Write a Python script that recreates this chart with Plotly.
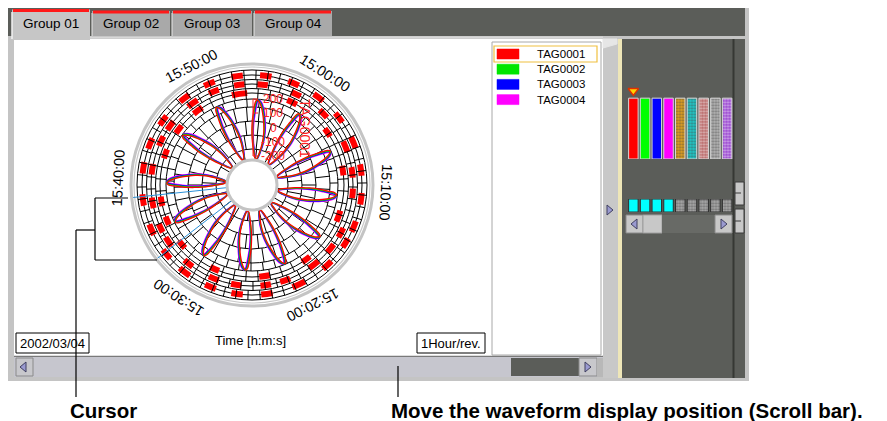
import numpy as np
import plotly.graph_objects as go

W, H = 887, 421
OFF = 8                      # the page body adds an 8px margin
FW, FH = W - OFF, H - OFF    # figure size

# ---------------- data ----------------
TAG_NAMES = ["TAG0001", "TAG0002", "TAG0003", "TAG0004"]
TAG_COLORS = ["#ff0000", "#00e600", "#0000ff", "#ff00ff"]
TAG_LAG_MIN = [-0.13, -0.045, 0.045, 0.13]          # small lag between the 4 tags

# analog waveform: time of each peak (minutes after 15:00:00)
PEAK_MIN = [55.7, 0.7, 6.2, 11.2, 16.3, 21.3, 25.8, 30.8, 35.8, 40.3, 46.0, 51.0]
# outline of one cycle: time offset from peak (min) and value
CYCLE_DMIN = [1.12, 1.65, 1.72, 1.62, 1.42, 1.15, 0.87, 0.55, 0.28, 0.0,
              -0.18, -0.28, -0.40, -0.52, -0.58, -0.58, -0.48, -0.22, 0.55, 1.12]
CYCLE_VAL = [-215, -150, -100, -50, 0, 50, 100, 150, 180, 195,
             180, 150, 100, 50, 0, -50, -100, -150, -215, -215]

SCALE_TICKS = [200, 100, 0, -100, -200]

# digital traces: centre time of each ON pulse (min after 15:00) and its length (min)
DIG_ON_MIN = [
    [59.3, 4.2, 8.5, 13.3, 19.0, 23.7, 29.0, 33.3, 36.2, 38.3, 43.3, 46.2, 49.0, 53.7],
    [56.0, 59.3, 2.5, 6.3, 8.8, 10.8, 14.7, 16.5, 18.7, 21.8, 23.7, 26.5, 28.7, 31.5,
     34.3, 35.8, 38.3, 41.5, 44.3, 46.0, 49.0, 51.3, 53.8],
    [56.2, 58.7, 1.2, 3.7, 6.2, 8.7, 11.2, 13.7, 15.3, 17.8, 20.8, 23.7, 26.3, 28.7,
     31.3, 33.5, 36.0, 38.7, 41.5, 43.7, 46.0, 48.7, 51.2, 53.7],
]
DIG_LEN_MIN = [
    [1.1, 1.0, 1.0, 1.2, 1.0, 1.1, 1.0, 1.0, 0.9, 1.0, 1.0, 1.0, 1.1, 1.6],
    [1.0, 1.0, 1.0, 1.1, 1.0, 0.9, 1.0, 1.0, 1.1, 1.0, 1.0, 1.0, 1.0, 1.0,
     1.0, 0.9, 1.0, 1.0, 1.0, 1.0, 1.1, 1.0, 1.0],
    [1.0, 1.0, 1.0, 1.0, 1.1, 1.0, 1.0, 1.0, 0.9, 1.0, 1.2, 1.0, 1.0, 1.0,
     1.1, 1.0, 1.0, 1.0, 1.0, 1.0, 1.0, 1.0, 1.0, 1.0],
]

CURSOR_MIN = [39.0, 33.7]

TIME_LABELS = ["15:00:00", "15:10:00", "15:20:00", "15:30:00", "15:40:00", "15:50:00"]
TIME_LABEL_MIN = [0, 10, 20, 30, 40, 50]

TAB_LABELS = ["Group 01", "Group 02", "Group 03", "Group 04"]

BAR_TAGS = [1, 2, 3, 4, 5, 6, 7, 8, 9]
BAR_VALUES = [100, 100, 100, 100, 100, 100, 100, 100, 100]
BAR_COLORS = ["#ff0000", "#00ff00", "#0000ff", "#ff00ff", "#e0a020",
              "#20c8c8", "#b86868", "#b4b4b4", "#9a48d0"]
ALARM_VALUES = [1, 1, 1, 1, 1, 1, 1, 1, 1]
ALARM_COLORS = ["#00ffff", "#00ffff", "#00ffff", "#00ffff", "#a8a8a8",
                "#a8a8a8", "#a8a8a8", "#a8a8a8", "#a8a8a8"]

# ---------------- geometry / styles ----------------
CX, CY = 252, 185
R_PX, HOLE_PX = 121, 25
VPP = 400 / 57.0


def val(p):          # radial pixel -> radial axis value
    return (p - 57.5) * VPP


R_MIN, R_MAX = val(HOLE_PX), val(R_PX)
RING_PX = [25.6, 36, 50, 64, 78, 86, 92, 96.5, 101, 105.5, 110, 115]
DIG_BASE_PX = [92, 101, 110]
FONT = "Liberation Sans, Arial, sans-serif"
DARK = "#5b5d59"
LIGHT = "#c4c4c4"


def X(x):
    return (x - OFF) / FW


def Y(y):
    return 1 - (y - OFF) / FH


fig = go.Figure()

# brick-style radial grid segments
bt, br = [], []
bands = [(25, 36), (36, 50), (50, 64), (64, 78), (78, 86), (86, 96.5), (96.5, 105.5), (105.5, 115)]
for k, (a, b) in enumerate(bands):
    n = int(round(2 * np.pi * (a + b) / 2 / 12))
    step = 360.0 / n
    for i in range(n):
        t = i * step + 0.5 * step * (k % 2)
        bt += [t, t, None]
        br += [val(a), val(b), None]
fig.add_trace(go.Scatterpolar(theta=bt, r=br, mode="lines", line=dict(color="black", width=1),
                              hoverinfo="skip"))

# digital traces (red pulses)
for k in range(3):
    c = np.array(DIG_ON_MIN[k]) * 6
    w = np.array(DIG_LEN_MIN[k]) * 6
    fig.add_trace(go.Barpolar(theta=c, width=w, r=[6 * VPP] * len(c),
                              base=val(DIG_BASE_PX[k] - 3), marker=dict(color="#ff0000", line=dict(width=0)),
                              hoverinfo="skip"))

# analog traces
for j in [3, 2, 1, 0]:
    th, rr = [], []
    for p in PEAK_MIN:
        th += [(p + d + TAG_LAG_MIN[j]) * 6 for d in CYCLE_DMIN] + [None]
        rr += CYCLE_VAL + [None]
    fig.add_trace(go.Scatterpolar(theta=th, r=rr, mode="lines",
                                  line=dict(color=TAG_COLORS[j], width=1.3, shape="spline", smoothing=0.8),
                                  name=TAG_NAMES[j], hoverinfo="skip"))

# cursors
for m in CURSOR_MIN:
    fig.add_trace(go.Scatterpolar(theta=[m * 6, m * 6], r=[R_MIN, R_MAX], mode="lines",
                                  line=dict(color="#2a90d8", width=1), hoverinfo="skip"))

# right-panel bar graph
fig.add_trace(go.Bar(x=BAR_TAGS, y=BAR_VALUES, xaxis="x", yaxis="y",
                     marker=dict(color=BAR_COLORS, line=dict(color="#d8d8d8", width=1),
                                 pattern=dict(shape=["", "", "", "", ".", ".", ".", ".", "."],
                                              fgcolor=DARK, size=3, solidity=0.45)),
                     hoverinfo="skip"))
fig.add_trace(go.Scatter(x=[BAR_TAGS[0]], y=[112], xaxis="x", yaxis="y", mode="markers",
                         marker=dict(symbol="triangle-down", size=9, color="#ffd200",
                                     line=dict(color="#e03000", width=1.5)),
                         cliponaxis=False, hoverinfo="skip"))
fig.add_trace(go.Bar(x=BAR_TAGS, y=ALARM_VALUES, xaxis="x2", yaxis="y2",
                     marker=dict(color=ALARM_COLORS, line=dict(color="#303030", width=1),
                                 pattern=dict(shape=["", "", "", "", ".", ".", ".", ".", "."],
                                              fgcolor=DARK, size=3, solidity=0.45)),
                     hoverinfo="skip"))

# ---------------- chrome (shapes / annotations) ----------------
shapes, ann = [], []


def rect(x0, y0, x1, y1, fill=None, line=None, lw=1, layer="below"):
    shapes.append(dict(type="rect", xref="paper", yref="paper", x0=X(x0), x1=X(x1), y0=Y(y1), y1=Y(y0),
                       fillcolor=fill or "rgba(0,0,0,0)",
                       line=dict(color=line or "rgba(0,0,0,0)", width=lw if line else 0), layer=layer))


def seg(x0, y0, x1, y1, color="black", lw=1, layer="above"):
    shapes.append(dict(type="line", xref="paper", yref="paper", x0=X(x0), y0=Y(y0), x1=X(x1), y1=Y(y1),
                       line=dict(color=color, width=lw), layer=layer))


def poly(pts, fill, line="#404060", layer="above"):
    d = "M " + " L ".join(f"{X(a)},{Y(b)}" for a, b in pts) + " Z"
    shapes.append(dict(type="path", xref="paper", yref="paper", path=d, fillcolor=fill,
                       line=dict(color=line, width=1), layer=layer))


def text(x, y, s, size=13, color="black", xa="center", ya="middle", angle=0, bold=False):
    ann.append(dict(x=X(x), y=Y(y), xref="paper", yref="paper", text=f"<b>{s}</b>" if bold else s,
                    showarrow=False, xanchor=xa, yanchor=ya, textangle=angle,
                    font=dict(family=FONT, size=size, color=color)))


# window frame
rect(8, 8, 749, 381, fill=LIGHT)
rect(8, 8, 749, 36, fill=DARK)
rect(14, 39, 603, 356, fill="white")
# tabs
tabs = [(12, 90), (92, 170), (172, 252), (254, 332)]
for i, (a, b) in enumerate(tabs):
    if i == 0:
        rect(a, 9.5, b, 40, fill="#c6c6c6")
        rect(a + 1, 9, b - 1, 12, fill="#ff1a1a")
        seg(a, 12, a, 39, "#f2f2f2", 1.5, "below")
    else:
        rect(a, 11, b, 36.5, fill="#a9a9a9")
        rect(a + 1, 10.5, b - 1, 13.5, fill="#ff1a1a")
        seg(a, 13, a, 36, "#e8e8e8", 1, "below")
    text((a + b) / 2, 23.5, TAB_LABELS[i], size=13.5)
seg(90, 37.5, 603, 37.5, "#d8d8d8", 2, "below")
# legend box
rect(492, 42, 601, 355, fill="white", line="#a8a8a8", lw=1)
for i, name in enumerate(TAG_NAMES):
    yy = 54 + i * 15.2
    rect(497, yy - 5, 519, yy + 5, fill=TAG_COLORS[i], line=TAG_COLORS[i], lw=0.5)
    text(535, yy, name, size=11.5, xa="left")
rect(494, 46, 597, 62, line="#f0c040", lw=1.2, layer="above")
# bottom boxes / texts
rect(16, 333, 89, 353, fill="white", line="black", lw=1)
text(52.5, 343.5, "2002/03/04", size=13)
rect(417, 333, 485, 353, fill="white", line="black", lw=1)
text(451, 343.5, "1Hour/rev.", size=13)
text(250, 340, "Time [h:m:s]", size=13)
# scrollbar
seg(14, 356.5, 603, 356.5, "#7a7a7a", 1.5, "below")
rect(14, 357, 603, 377, fill="#c6c6ce")
rect(511, 358, 579, 376, fill=DARK)
rect(16, 358, 33, 376, fill="#c8c8cc", line="#8a8a8a", lw=1)
poly([(26, 362), (26, 372), (20, 367)], "#9a9ad0")
rect(579, 358, 597, 376, fill="#c8c8cc", line="#8a8a8a", lw=1)
poly([(585, 362), (585, 372), (591, 367)], "#9a9ad0")
rect(597, 358, 603, 377, fill="#b8b8b8")
# right panel
rect(603, 36, 749, 39, fill=LIGHT)
rect(603, 39, 618, 378, fill="#c8c8c8")
poly([(603, 39), (617, 39), (617, 44), (603, 48)], "#e6e6e6", line="#e6e6e6", layer="below")
poly([(607, 205), (607, 215), (613, 210)], "#9a9ad0")
rect(618, 39, 622, 378, fill="#eee6b8")
rect(622, 39, 745, 378, fill=DARK)
seg(733.5, 39, 733.5, 378, "#363834", 2, "below")
rect(745, 8, 749, 381, fill=LIGHT)
rect(735, 182, 744, 205, fill="#c8c8c8", line="#3a3a3a", lw=1)
rect(735, 209, 744, 233, fill="#c8c8c8", line="#3a3a3a", lw=1)
seg(735, 193, 741, 193, "#3a3a3a", 1, "below")
seg(735, 221, 741, 221, "#3a3a3a", 1, "below")
rect(626, 215, 643, 233, fill="#c8c8c8", line="#8a8a8a", lw=1)
poly([(637, 219), (637, 229), (631, 224)], "#9a9ad0")
rect(643, 215, 662, 233, fill="#c8c8c8", line="#a0a0a0", lw=1)
rect(662, 215, 715, 233, fill="#686a66")
rect(715, 215, 732, 233, fill="#c8c8c8", line="#8a8a8a", lw=1)
poly([(721, 219), (721, 229), (727, 224)], "#9a9ad0")
# grey outer ring of the dial
shapes.append(dict(type="circle", xref="paper", yref="paper", x0=X(CX - 118), x1=X(CX + 118),
                   y0=Y(CY + 118), y1=Y(CY - 118), line=dict(color="#c8c8c8", width=1.2), layer="below"))

# time labels around dial
for s, m in zip(TIME_LABELS, TIME_LABEL_MIN):
    th = np.deg2rad(30 + 6 * m + 3)
    ang = (30 + 6 * m + 3 + 180) % 360 - 180
    text(CX + 134 * np.sin(th), CY - 134 * np.cos(th), s, size=14.5, angle=ang)

# value scale of TAG0001
for v in SCALE_TICKS:
    text(273, CY - (57.5 + v / VPP), str(v), size=12, color="#ff2020")
y_top, y_bot = CY - (57.5 + 200 / VPP), CY - (57.5 - 200 / VPP)
seg(253, y_top, 253, y_bot, "#ff2020", 1)
for yy in [y_top, y_top + 14, y_bot]:
    seg(253, yy, 258, yy, "#ff2020", 1)
text(305, 128, TAG_NAMES[0], size=14, color="#ff2020", angle=90)

# callouts
for a in [(76, 230, 76, 397), (76, 230, 95, 230), (95, 198, 95, 260), (95, 198, 128, 198),
          (95, 260, 157, 260), (398, 366, 398, 397)]:
    seg(*a, color="black", lw=1.2)
text(103, 410, "Cursor", size=20.5, bold=True)
text(389, 410, "Move the waveform display position (Scroll bar).", size=20.5, bold=True, xa="left")

fig.update_layout(
    width=FW, height=FH, margin=dict(l=0, r=0, t=0, b=0),
    paper_bgcolor="white", plot_bgcolor="rgba(0,0,0,0)", showlegend=False, bargap=0.19,
    shapes=shapes, annotations=ann,
    polar=dict(
        domain=dict(x=[X(CX - R_PX), X(CX + R_PX)], y=[Y(CY + R_PX), Y(CY - R_PX)]),
        hole=HOLE_PX / R_PX, bgcolor="rgba(0,0,0,0)",
        radialaxis=dict(range=[R_MIN, R_MAX], tickvals=[val(p) for p in RING_PX], showticklabels=False,
                        ticks="", showline=False, gridcolor="black", gridwidth=1),
        angularaxis=dict(rotation=60, direction="clockwise", showgrid=False, showticklabels=False,
                         ticks="", showline=True, linecolor="#c4c4c4", linewidth=3),
    ),
    xaxis=dict(domain=[X(627.5), X(733)], range=[0.5, 9.5], visible=False, fixedrange=True),
    yaxis=dict(domain=[Y(159), Y(86)], range=[0, 120], visible=False, fixedrange=True),
    xaxis2=dict(domain=[X(627.5), X(733)], range=[0.5, 9.5], visible=False, anchor="y2"),
    yaxis2=dict(domain=[Y(212), Y(199)], range=[0, 1], visible=False, anchor="x2"),
)

fig.write_html("out.html")
